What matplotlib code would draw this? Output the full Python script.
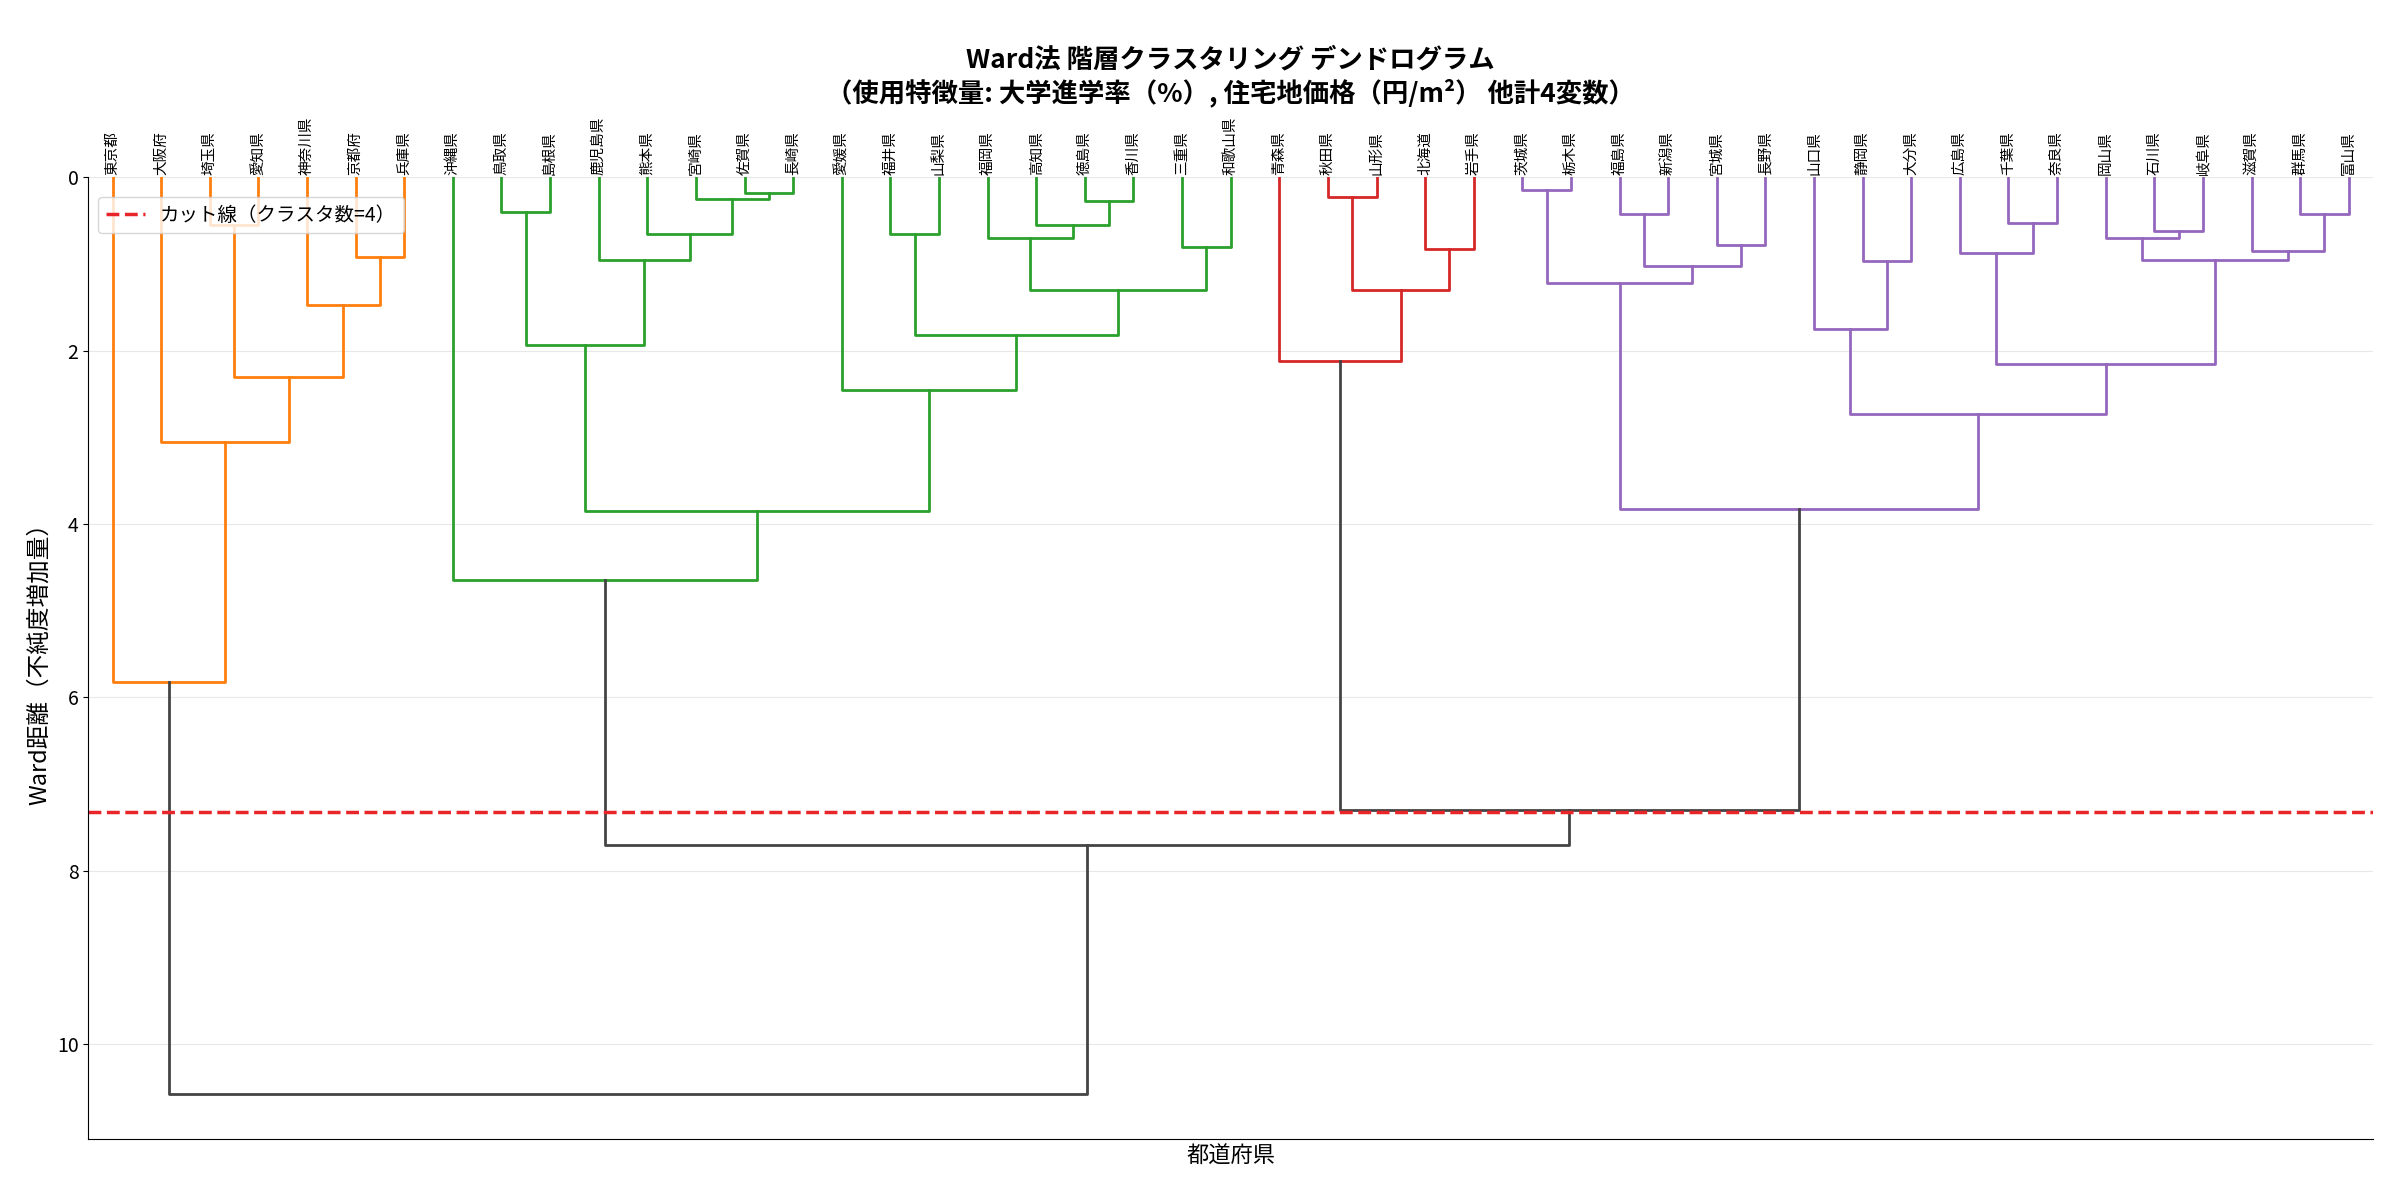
import numpy as np
import matplotlib.pyplot as plt

plt.rcParams['font.family'] = ['Noto Sans CJK JP', 'DejaVu Sans']

labels = ["東京都", "大阪府", "埼玉県", "愛知県", "神奈川県", "京都府", "兵庫県",
          "沖縄県", "鳥取県", "島根県", "鹿児島県", "熊本県", "宮崎県", "佐賀県", "長崎県",
          "愛媛県", "福井県", "山梨県", "福岡県", "高知県", "徳島県", "香川県", "三重県", "和歌山県",
          "青森県", "秋田県", "山形県", "北海道", "岩手県",
          "茨城県", "栃木県", "福島県", "新潟県", "宮城県", "長野県", "山口県", "静岡県", "大分県",
          "広島県", "千葉県", "奈良県", "岡山県", "石川県", "岐阜県", "滋賀県", "群馬県", "富山県"]

# merges (left, right, height); new cluster ids start at len(labels)
merges = [
    (2, 3, 0.55), (5, 6, 0.92), (4, 48, 1.47), (47, 49, 2.30), (1, 50, 3.05), (0, 51, 5.82),
    (8, 9, 0.40), (13, 14, 0.18), (12, 54, 0.25), (11, 55, 0.65), (10, 56, 0.95), (53, 57, 1.93),
    (16, 17, 0.65), (20, 21, 0.27), (19, 60, 0.55), (18, 61, 0.70), (22, 23, 0.80), (62, 63, 1.30),
    (59, 64, 1.82), (15, 65, 2.45), (58, 66, 3.85), (7, 67, 4.65),
    (25, 26, 0.22), (27, 28, 0.83), (69, 70, 1.30), (24, 71, 2.12),
    (29, 30, 0.15), (31, 32, 0.42), (33, 34, 0.78), (74, 75, 1.02), (73, 76, 1.22),
    (36, 37, 0.97), (35, 78, 1.75), (39, 40, 0.53), (38, 80, 0.87), (42, 43, 0.62),
    (41, 82, 0.70), (45, 46, 0.42), (44, 84, 0.85), (83, 85, 0.95), (81, 86, 2.15),
    (79, 87, 2.73), (77, 88, 3.83),
    (72, 89, 7.30), (68, 90, 7.70), (52, 91, 10.58),
]
cut = 7.32
cluster_roots = {52: "#ff7f0e", 68: "#2ca02c", 72: "#d62728", 89: "#9467bd"}
above_color = "#444444"

n = len(labels)
xpos = {i: 5 + 10 * i for i in range(n)}
ypos = {i: 0.0 for i in range(n)}
members = {i: [i] for i in range(n)}
for k, (a, b, h) in enumerate(merges):
    cid = n + k
    xpos[cid] = (xpos[a] + xpos[b]) / 2
    ypos[cid] = h
    members[cid] = members[a] + members[b]

leaf_color = {}
for root, c in cluster_roots.items():
    for m in members[root]:
        leaf_color[m] = c

fig, ax = plt.subplots(figsize=(23.85, 11.83), dpi=100)
for k, (a, b, h) in enumerate(merges):
    cols = {leaf_color[m] for m in members[n + k]}
    color = cols.pop() if len(cols) == 1 else above_color
    ax.plot([xpos[a], xpos[a], xpos[b], xpos[b]], [ypos[a], h, h, ypos[b]], color=color, lw=2)

ax.axhline(cut, color="#e8262a", ls="--", lw=2.5, label="カット線（クラスタ数=4）")
ax.set_xlim(0, 10 * n)
ax.set_ylim(11.1, 0)
ax.xaxis.tick_top()
ax.set_xticks([xpos[i] for i in range(n)])
ax.set_xticklabels(labels, rotation=90, fontsize=10.5)
ax.tick_params(axis="x", length=0, pad=2)
ax.tick_params(axis="y", labelsize=14)
ax.grid(axis="y", color="#e8e8e8", lw=0.8)
ax.set_axisbelow(True)
for s in ["top", "right"]:
    ax.spines[s].set_visible(False)
ax.set_ylabel("Ward距離（不純度増加量）", fontsize=17)
ax.set_xlabel("都道府県", fontsize=16)
ax.set_title("Ward法 階層クラスタリング デンドログラム\n（使用特徴量: 大学進学率（%）, 住宅地価格（円/m²） 他計4変数）",
             fontsize=19, fontweight="bold", pad=55)
ax.legend(loc="upper left", fontsize=14, bbox_to_anchor=(0.0, 0.99))
fig.subplots_adjust(left=0.037, right=0.995, top=0.85, bottom=0.037)
fig.savefig("out.png", dpi=100)
